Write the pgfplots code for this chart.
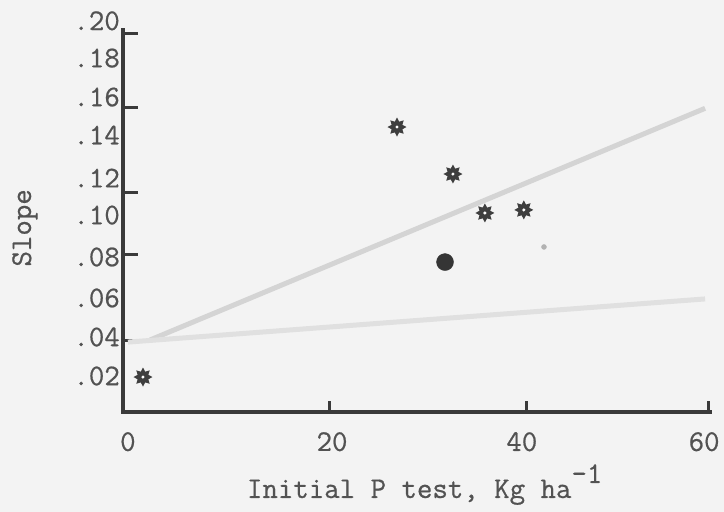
\documentclass[border=0pt]{standalone}
\usepackage{fontspec}
\setmonofont{Latin Modern Mono}[FakeBold=0.6]
\usepackage{pgfplots}
\pgfplotsset{compat=1.18}
\definecolor{bgcol}{RGB}{243,243,243}
\definecolor{axiscol}{RGB}{58,58,58}
\definecolor{textcol}{RGB}{82,82,82}
\definecolor{starcol}{RGB}{62,62,62}
\definecolor{upcol}{RGB}{212,212,212}
\definecolor{lowcol}{RGB}{224,224,224}
\newcommand\tw{\ttfamily\fontsize{30}{34}\selectfont}
\pgfdeclareplotmark{gear}{%
  \pgfpathmoveto{\pgfpointpolar{0}{9.5pt}}%
  \pgfpathlineto{\pgfpointpolar{22.5}{5.8pt}}%
  \pgfpathlineto{\pgfpointpolar{45}{9.5pt}}%
  \pgfpathlineto{\pgfpointpolar{67.5}{5.8pt}}%
  \pgfpathlineto{\pgfpointpolar{90}{9.5pt}}%
  \pgfpathlineto{\pgfpointpolar{112.5}{5.8pt}}%
  \pgfpathlineto{\pgfpointpolar{135}{9.5pt}}%
  \pgfpathlineto{\pgfpointpolar{157.5}{5.8pt}}%
  \pgfpathlineto{\pgfpointpolar{180}{9.5pt}}%
  \pgfpathlineto{\pgfpointpolar{202.5}{5.8pt}}%
  \pgfpathlineto{\pgfpointpolar{225}{9.5pt}}%
  \pgfpathlineto{\pgfpointpolar{247.5}{5.8pt}}%
  \pgfpathlineto{\pgfpointpolar{270}{9.5pt}}%
  \pgfpathlineto{\pgfpointpolar{292.5}{5.8pt}}%
  \pgfpathlineto{\pgfpointpolar{315}{9.5pt}}%
  \pgfpathlineto{\pgfpointpolar{337.5}{5.8pt}}%
  \pgfpathclose
  \pgfusepathqfill
  \begin{pgfscope}%
  \pgfsetfillcolor{white}%
  \pgfpathcircle{\pgfpointorigin}{1.7pt}%
  \pgfusepathqfill
  \end{pgfscope}%
}
\begin{document}
\begin{tikzpicture}
\fill[bgcol] (0,0) rectangle (724pt,512pt);
\begin{axis}[
  at={(123pt,100pt)}, anchor=south west,
  scale only axis, width=587pt, height=382pt,
  xmin=-0.5, xmax=59.4, ymin=0, ymax=0.2,
  axis x line*=bottom, axis y line*=left,
  axis line style={line width=3.5pt, draw=axiscol, line cap=rect},
  tick align=inside,
  major tick length=0pt,
  xtick={0,20.83,40.2,58.8}, xticklabels={0,20,40,60},
  ytick={0.01885,0.03927,0.05969,0.08115,0.1031,0.1225,0.1450,0.1649,0.1853,0.2},
  yticklabels={.02,.04,.06,.08,.10,.12,.14,.16,.18,\smash{.20}},
  extra x ticks={20.6,40.7,59.2}, extra x tick labels={},
  extra x tick style={major tick length=11pt, tick style={draw=axiscol, line width=3pt}},
  extra y ticks={0.0372,0.0822,0.1147,0.1592,0.1984}, extra y tick labels={},
  extra y tick style={major tick length=15pt, tick style={draw=axiscol, line width=3pt}},
  tick label style={font=\tw, text=textcol},
  xticklabel style={anchor=north, inner sep=0pt, yshift=-20pt},
  yticklabel style={anchor=east, inner sep=0pt, xshift=-3pt},
  xlabel={Initial P test, Kg ha\raisebox{0.5em}{-1}},
  xlabel style={at={(axis description cs:0.514,-0.225)}, anchor=base, font=\tw, text=textcol},
  ylabel={Slope},
  ylabel style={at={(axis description cs:-0.167,0.482)}, anchor=center, font=\tw, text=textcol},
  clip=false,
]
\addplot[upcol, line width=5pt] coordinates {(2.26,0.0377) (58.9,0.159)};
\addplot[lowcol, line width=5pt] coordinates {(0,0.0366) (58.9,0.0592)};
\addplot[only marks, mark=gear, color=starcol, fill=starcol] coordinates {
  (1.54,0.0183) (27.46,0.1492) (33.17,0.1246) (36.43,0.1042) (40.4,0.1058)};
\addplot[only marks, mark=*, mark size=8.5pt, color=starcol!85!black] coordinates {(32.36,0.0785)};
\addplot[only marks, mark=*, mark size=2.5pt, color=black!30] coordinates {(42.46,0.0864)};
\end{axis}
\end{tikzpicture}
\end{document}
